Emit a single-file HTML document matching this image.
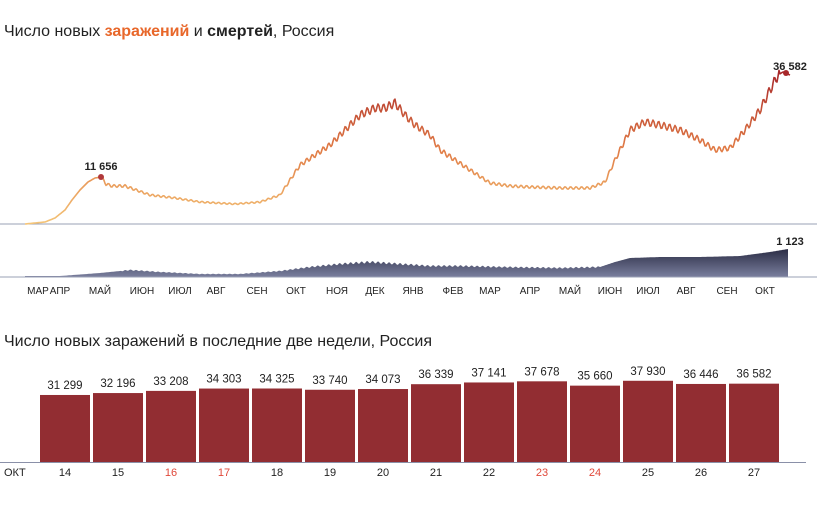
<!DOCTYPE html><html><head><meta charset="utf-8"><style>
body{margin:0;background:#fff;width:817px;height:501px;overflow:hidden;font-family:"Liberation Sans",sans-serif}
</style></head><body>
<svg width="817" height="501" xmlns="http://www.w3.org/2000/svg" font-family="Liberation Sans, sans-serif">
<defs>
<linearGradient id="g" gradientUnits="userSpaceOnUse" x1="0" y1="224" x2="0" y2="72">
<stop offset="0" stop-color="#f4c477"/><stop offset="0.5" stop-color="#e07a45"/><stop offset="1" stop-color="#a8282a"/></linearGradient>
<linearGradient id="d" x1="0" y1="0" x2="0" y2="1"><stop offset="0" stop-color="#2b2d45"/><stop offset="1" stop-color="#7a7f9e"/></linearGradient>
</defs>
<text x="4" y="36" font-size="16" fill="#222">Число новых <tspan fill="#e8672a" font-weight="bold">заражений</tspan> и <tspan font-weight="bold">смертей</tspan>, Россия</text>
<line x1="0" y1="224" x2="817" y2="224" stroke="#9aa0b4" stroke-width="1"/>
<polyline id="ln" fill="none" stroke="url(#g)" stroke-width="1.6" stroke-linejoin="round" points=""/>
<circle cx="101" cy="177" r="3" fill="#b0383a"/>
<circle cx="786" cy="73" r="3" fill="#a8282a"/>
<text x="101" y="170" font-size="11" font-weight="bold" text-anchor="middle" fill="#222">11 656</text>
<text x="790" y="70" font-size="11" font-weight="bold" text-anchor="middle" fill="#222">36 582</text>
<polygon id="ar" fill="url(#d)" points=""/>
<line x1="0" y1="277" x2="817" y2="277" stroke="#9aa0b4"/>
<text x="790" y="245" font-size="11" font-weight="bold" text-anchor="middle" fill="#222">1 123</text>
<g font-size="10" fill="#222" text-anchor="middle">
<text x="38" y="294">МАР</text><text x="60" y="294">АПР</text><text x="100" y="294">МАЙ</text><text x="142" y="294">ИЮН</text><text x="180" y="294">ИЮЛ</text><text x="216" y="294">АВГ</text><text x="257" y="294">СЕН</text><text x="296" y="294">ОКТ</text><text x="337" y="294">НОЯ</text><text x="375" y="294">ДЕК</text><text x="413" y="294">ЯНВ</text><text x="453" y="294">ФЕВ</text><text x="490" y="294">МАР</text><text x="530" y="294">АПР</text><text x="570" y="294">МАЙ</text><text x="610" y="294">ИЮН</text><text x="648" y="294">ИЮЛ</text><text x="686" y="294">АВГ</text><text x="727" y="294">СЕН</text><text x="765" y="294">ОКТ</text>
</g>
<text x="4" y="346" font-size="16" fill="#222">Число новых заражений в последние две недели, Россия</text>
<g id="bars"></g>
<line x1="0" y1="462.5" x2="806" y2="462.5" stroke="#8a90a8"/>
<text x="4" y="476" font-size="11" fill="#222">ОКТ</text>
</svg>
<script>
function interp(p,x){for(let i=1;i<p.length;i++){if(x<=p[i][0]){const a=p[i-1],b=p[i];return a[1]+(b[1]-a[1])*(x-a[0])/(b[0]-a[0]);}}return p[p.length-1][1];}
const L=[[25,224],[45,222],[55,218],[65,210],[72,200],[80,190],[88,182],[95,178],[101,177],[106,184],[112,186],[125,186],[150,195],[175,198],[200,202],[235,204],[260,202],[280,195],[290,180],[300,165],[315,155],[330,145],[345,130],[360,115],[375,108],[385,108],[395,103],[405,115],[415,125],[430,135],[440,150],[455,160],[470,170],[490,183],[510,186],[530,187],[560,188],[590,188],[605,182],[615,160],[630,130],[645,122],[660,125],[680,130],[700,140],[715,150],[730,148],[745,130],[760,110],[770,90],[778,75],[783,72],[790,75]];
let pts=[];for(let x=25;x<=790;x+=1){let y=interp(L,x);let amp=(224-y)*0.035;if(x>100&&x<780)y+=amp*Math.sin(x*2*Math.PI/5.5);pts.push(x+','+y.toFixed(1));}
document.getElementById('ln').setAttribute('points',pts.join(' '));
const D=[[25,276],[60,276],[100,273],[130,270],[160,272],[200,274],[240,274],[280,271],[310,267],[340,264],[370,262],[400,264],[430,266],[460,266],[500,267],[560,268],[600,267],[615,262],[630,258],[660,257],[700,257],[740,256],[770,252],[788,249]];
let ap=['25,277'];for(let x=25;x<=788;x+=1){let y=interp(D,x);let amp=(277-y)*0.08;if(x>120&&x<600)y+=amp*Math.sin(x*2*Math.PI/5.5);ap.push(x+','+y.toFixed(1));}ap.push('788,277');
document.getElementById('ar').setAttribute('points',ap.join(' '));
const v=[31299,32196,33208,34303,34325,33740,34073,36339,37141,37678,35660,37930,36446,36582];
const red=[16,17,23,24];let s='';
v.forEach((x,i)=>{const l=40+i*53,h=x/467,t=462-h,d=14+i;
s+=`<rect x="${l}" y="${t}" width="50" height="${h}" fill="#922d32"/>`;
s+=`<text x="${l+25}" y="${t-6}" font-size="11.5" text-anchor="middle" fill="#222">${String(x).slice(0,2)+' '+String(x).slice(2)}</text>`;
s+=`<text x="${l+25}" y="476" font-size="11" text-anchor="middle" fill="${red.includes(d)?'#e0483a':'#222'}">${d}</text>`;});
document.getElementById('bars').innerHTML=s;
</script>
</body></html>
